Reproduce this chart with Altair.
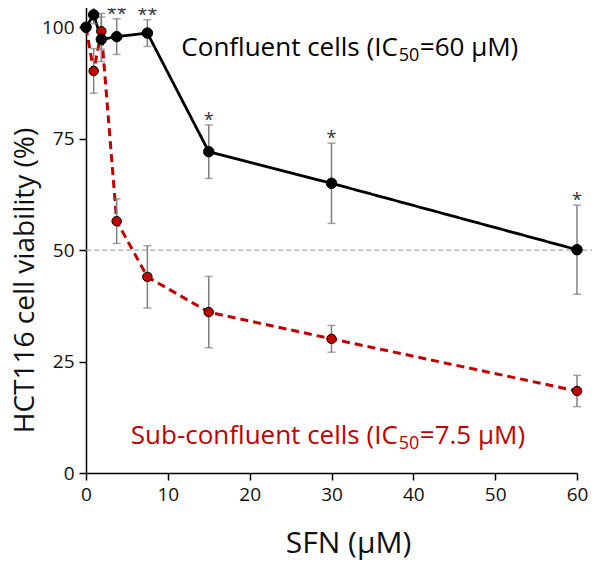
import altair as alt
import pandas as pd

# ---- data ----
conc = [0, 0.94, 1.875, 3.75, 7.5, 15, 30, 60]
confluent_mean = [100, 102.8, 97.3, 97.9, 98.7, 72.1, 65.0, 50.1]
confluent_err = [0, 2.0, 5.0, 4.0, 3.0, 6.0, 9.0, 10.0]
subconf_mean = [100, 90.2, 99.1, 56.5, 44.0, 36.1, 30.1, 18.4]
subconf_err = [0, 5.0, 4.0, 5.0, 7.0, 8.0, 3.0, 3.5]

star_conc = [3.75, 7.5, 15, 30, 60]
star_text = ["**", "**", "*", "*", "*"]

x_ticks = [0, 10, 20, 30, 40, 50, 60]
y_ticks = [0, 25, 50, 75, 100]

conf_label = ["Confluent cells (IC", "50", "=60 \u03bcM)"]
conf_label_pos = (38.1, 95.4)
sub_label = ["Sub-confluent cells (IC", "50", "=7.5 \u03bcM)"]
sub_label_pos = (38.1, 8.2)

FONT = "Open Sans"
W, H = 491, 468

conf = pd.DataFrame({"c": conc, "m": confluent_mean, "e": confluent_err})
conf["lo"] = conf.m - conf.e
conf["hi"] = conf.m + conf.e
sub = pd.DataFrame({"c": conc, "m": subconf_mean, "e": subconf_err})
sub["lo"] = sub.m - sub.e
sub["hi"] = sub.m + sub.e

star_df = conf[conf.c.isin(star_conc)].copy()
star_df["t"] = star_text

xs = alt.Scale(domain=[0, 60], nice=False, zero=False)
ys = alt.Scale(domain=[0, 105], nice=False)

X = alt.X("c:Q", scale=xs, axis=alt.Axis(values=x_ticks, title="SFN (\u03bcM)", grid=False,
          tickSize=7, labelFontSize=19, titleFontSize=30, labelPadding=5,
          titleX=262, titleY=70, titleBaseline="middle", titleAnchor="middle",
          domainColor="black", tickColor="black", domainWidth=1.5, tickWidth=1.5,
          labelColor="#111", titleColor="#111", labelFont=FONT, titleFont=FONT,
          titleFontWeight="normal", labelFlush=False))
Y = alt.Y("m:Q", scale=ys, axis=alt.Axis(values=y_ticks, title="HCT116 cell viability (%)", grid=False,
          tickSize=7, labelFontSize=19, titleFontSize=28, labelPadding=5,
          titleX=-61, titleY=275, titleAngle=270, titleBaseline="middle", titleAnchor="middle",
          titleAlign="center",
          domainColor="black", tickColor="black", domainWidth=1.5, tickWidth=1.5,
          labelColor="#111", titleColor="#111", labelFont=FONT, titleFont=FONT,
          titleFontWeight="normal", labelFlush=False))

ref = alt.Chart(pd.DataFrame({"y": [50]})).mark_rule(
    color="#a6a6a6", strokeWidth=1.3, strokeDash=[5, 3], clip=False
).encode(y=alt.Y("y:Q", scale=ys), x=alt.value(0), x2=alt.value(W + 25))


def series(df, color, dash, width, size):
    base = alt.Chart(df)
    line = base.mark_line(color=color, strokeWidth=width, strokeDash=dash, clip=False).encode(x=X, y=Y)
    bars = base.mark_rule(color="#7f7f7f", strokeWidth=1.5, clip=False).encode(
        x=alt.X("c:Q", scale=xs), y=alt.Y("lo:Q", scale=ys), y2="hi:Q")
    cap_lo = base.mark_tick(color="#7f7f7f", orient="horizontal", size=8, thickness=1.5, clip=False).encode(
        x=alt.X("c:Q", scale=xs), y=alt.Y("lo:Q", scale=ys))
    cap_hi = base.mark_tick(color="#7f7f7f", orient="horizontal", size=8, thickness=1.5, clip=False).encode(
        x=alt.X("c:Q", scale=xs), y=alt.Y("hi:Q", scale=ys))
    pts = base.mark_point(filled=True, shape="circle", size=size, fill=color, stroke="black",
                          strokeWidth=1, opacity=1, clip=False).encode(
        x=alt.X("c:Q", scale=xs), y=alt.Y("m:Q", scale=ys))
    return line, bars, cap_lo, cap_hi, pts


cl, cb, ccl, cch, cp = series(conf, "black", [1, 0], 2.8, 110)
sl, sb, scl, sch, sp = series(sub, "#c00000", [8, 5], 3, 90)

stars = alt.Chart(star_df).mark_text(font=FONT, fontSize=18, color="#333", baseline="alphabetic",
                                     dy=1, clip=False).encode(
    x=alt.X("c:Q", scale=xs), y=alt.Y("hi:Q", scale=ys), text="t:N")


def label(parts, pos, color):
    d = pd.DataFrame({"x": [pos[0]], "y": [pos[1]]})
    b = alt.Chart(d)
    p1 = b.mark_text(text=parts[0], font=FONT, fontSize=26, color=color, align="right",
                     baseline="middle").encode(x=alt.X("x:Q", scale=xs), y=alt.Y("y:Q", scale=ys))
    p2 = b.mark_text(text=parts[1], font=FONT, fontSize=18, color=color, align="left",
                     baseline="middle", dx=1, dy=8).encode(x=alt.X("x:Q", scale=xs), y=alt.Y("y:Q", scale=ys))
    p3 = b.mark_text(text=parts[2], font=FONT, fontSize=26, color=color, align="left",
                     baseline="middle", dx=22).encode(x=alt.X("x:Q", scale=xs), y=alt.Y("y:Q", scale=ys))
    return p1 + p2 + p3


chart = alt.layer(
    ref, sl, cl, sb, scl, sch, cb, ccl, cch, sp, cp, stars,
    label(conf_label, conf_label_pos, "black"),
    label(sub_label, sub_label_pos, "#c00000"),
).properties(
    width=W, height=H,
    autosize=alt.AutoSizeParams(type="none"),
    padding={"left": 78, "top": -3, "right": 15, "bottom": 92},
).configure_view(stroke=None)

chart.save("out.html", embed_options={"renderer": "svg", "actions": False})
